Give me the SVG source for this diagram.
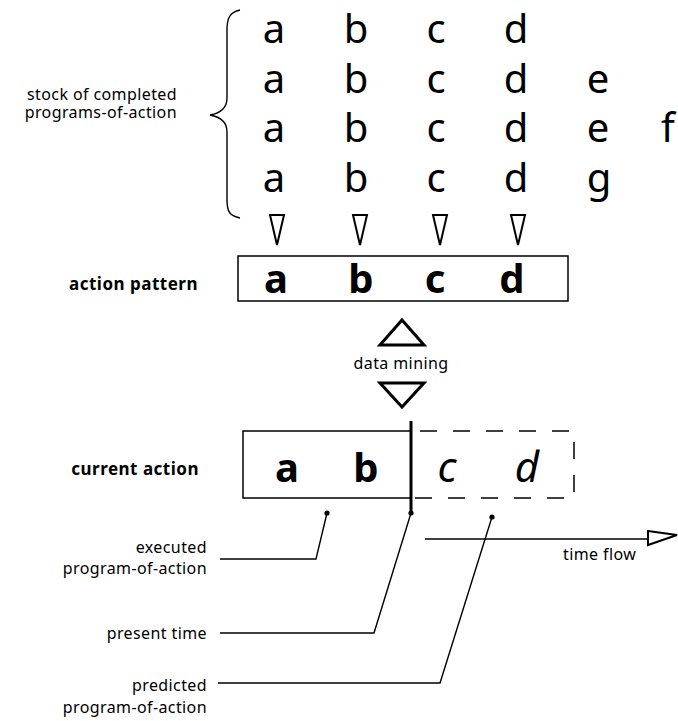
<svg xmlns="http://www.w3.org/2000/svg" width="678" height="721" viewBox="0 0 678 721">
  <style>
    .stock { font-family: "Noto Sans", "Open Sans", sans-serif; font-size: 40px; fill: #000; text-anchor: middle; }
    .big { font-family: "Noto Sans", "Open Sans", sans-serif; font-weight: bold; font-size: 40px; fill: #000; text-anchor: middle; }
    .ital { font-family: "Noto Sans", "Open Sans", sans-serif; font-style: italic; font-size: 42px; fill: #000; text-anchor: middle; }
    .lbl { font-family: "Noto Sans", "Open Sans", sans-serif; font-size: 16px; letter-spacing: 0.4px; fill: #000; }
    .blbl { font-family: "Noto Sans", "Open Sans", sans-serif; font-weight: bold; font-size: 17px; letter-spacing: 0.5px; fill: #000; text-anchor: end; }
    .end { text-anchor: end; }
    .mid { text-anchor: middle; }
    .box { fill: none; stroke: #000; stroke-width: 1.5; }
    .tri { fill: #fff; stroke: #000; stroke-width: 2; stroke-linejoin: miter; }
    .bigtri { fill: #fff; stroke: #000; stroke-width: 3; stroke-linejoin: miter; }
    .lead { fill: none; stroke: #000; stroke-width: 1.4; }
    .dot { fill: #000; }
  </style>

  <!-- stock of completed programs-of-action -->
  <g id="stock">
    <path class="lead" d="M240,10 C230,12 227,18 227,30 L227,98 C227,108 221,113 210,115 C221,117 227,122 227,132 L227,200 C227,212 230,216 240,218"/>
    <text class="lbl end" x="177" y="100">stock of completed</text>
    <text class="lbl end" x="177" y="118">programs-of-action</text>
    <text class="stock" y="43"><tspan x="274">a</tspan><tspan x="356">b</tspan><tspan x="436">c</tspan><tspan x="516">d</tspan></text>
    <text class="stock" y="92.5"><tspan x="274">a</tspan><tspan x="356">b</tspan><tspan x="436">c</tspan><tspan x="516">d</tspan><tspan x="598">e</tspan></text>
    <text class="stock" y="142"><tspan x="274">a</tspan><tspan x="356">b</tspan><tspan x="436">c</tspan><tspan x="516">d</tspan><tspan x="598">e</tspan><tspan x="668">f</tspan></text>
    <text class="stock" y="192"><tspan x="274">a</tspan><tspan x="356">b</tspan><tspan x="436">c</tspan><tspan x="516">d</tspan><tspan x="599">g</tspan></text>
  </g>

  <!-- action pattern -->
  <g id="pattern">
    <text class="blbl" x="198" y="290">action pattern</text>
    <rect class="box" x="238" y="256" width="330" height="45"/>
    <text class="big" y="293"><tspan x="276">a</tspan><tspan x="361">b</tspan><tspan x="435">c</tspan><tspan x="512">d</tspan></text>
  </g>

  <!-- current action -->
  <g id="current">
    <text class="blbl" x="199" y="475">current action</text>
    <path class="box" d="M411,431 L243,431 L243,498 L411,498"/>
    <path class="box" d="M412,431 L574,431 L574,498 L412,498" stroke-dasharray="17 16" stroke-dashoffset="-8"/>
    <line x1="411" y1="421" x2="411" y2="513" stroke="#000" stroke-width="3"/>
    <text class="big" y="482" font-size="43"><tspan x="287">a</tspan><tspan x="366">b</tspan></text>
    <text class="ital" y="482"><tspan x="447">c</tspan><tspan x="527">d</tspan></text>
  </g>

  <!-- side labels -->
  <g id="label-executed">
    <text class="lbl end" x="207" y="553">executed</text>
    <text class="lbl end" x="207" y="574">program-of-action</text>
  </g>
  <g id="label-present">
    <text class="lbl end" x="207" y="639">present time</text>
  </g>
  <g id="label-predicted">
    <text class="lbl end" x="207" y="691">predicted</text>
    <text class="lbl end" x="207" y="713">program-of-action</text>
  </g>
  <g id="label-time">
    <text class="lbl" x="563" y="560">time flow</text>
  </g>

  <!-- connectors -->
  <g id="connectors">
    <polygon class="tri" points="270,215 284,215 277,245"/>
    <polygon class="tri" points="353,215 367,215 360,245"/>
    <polygon class="tri" points="433,215 447,215 440,245"/>
    <polygon class="tri" points="511,215 525,215 518,245"/>

    <polygon class="bigtri" points="402,320 380,345 424,345"/>
    <text class="lbl mid" x="401" y="369">data mining</text>
    <polygon class="bigtri" points="380,383 424,383 402,407"/>

    <circle class="dot" cx="327" cy="513" r="2.6"/>
    <circle class="dot" cx="411" cy="513" r="2.6"/>
    <circle class="dot" cx="492" cy="517" r="2.6"/>
    <polyline class="lead" points="327,513 316,559 220,559"/>
    <polyline class="lead" points="411,513 374,633 220,633"/>
    <polyline class="lead" points="492,517 440,683 218,683"/>

    <line class="lead" x1="425" y1="539" x2="648" y2="539"/>
    <polygon class="tri" stroke-width="1.6" points="648,531 677,535 648,545"/>
  </g>
</svg>
